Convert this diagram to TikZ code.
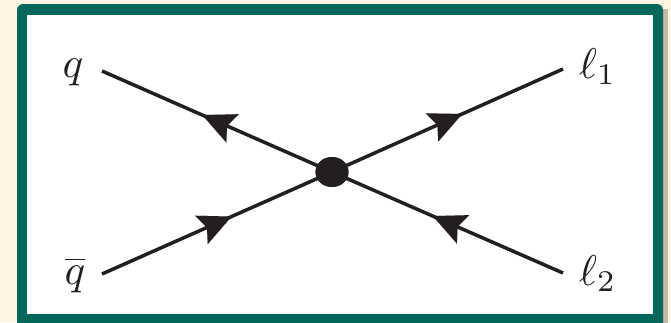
\documentclass[tikz,border=0pt]{standalone}
\usepackage{graphicx}
\usetikzlibrary{arrows.meta,decorations.markings,shapes.geometric}
\definecolor{cream}{RGB}{253,244,226}
\definecolor{frameteal}{RGB}{0,104,90}
\definecolor{shadowgray}{RGB}{196,186,168}
\definecolor{ink}{RGB}{35,31,32}
\newcommand{\bigsym}[1]{\scalebox{4.3}{$#1$}}
\begin{document}
\begin{tikzpicture}[x=1pt,y=-1pt,
  lbl/.style={inner sep=0pt, text=ink},
  prop/.style={draw=ink, line width=3.5pt, postaction={decorate},
    decoration={markings, mark=at position 0.5 with {\arrow[ink,xshift=16pt]{Stealth[length=33pt,width=31pt,inset=6pt,line width=0.01pt]}}}},
  vertexdot/.style={ellipse, fill=ink, minimum width=33pt, minimum height=30pt, inner sep=0pt}
]
\useasboundingbox (0,0) rectangle (671,322);
\fill[cream] (0,0) rectangle (671,322);
% shadow
\fill[shadowgray] (663,9) rectangle (668,330);
% frame
\fill[frameteal, rounded corners=6pt] (17,4) rectangle (663,340);
\fill[white] (27,15) rectangle (653,314);
% vertex and ends
\node[vertexdot] (v) at (332,172) {};
\coordinate (eq) at (102,71);
\coordinate (eqb) at (102,274);
\coordinate (el1) at (563,69);
\coordinate (el2) at (563,273);
\draw[prop] (v.center) -- (eq);
\draw[prop] (v.center) -- (el1);
\draw[prop] (eqb) -- (v.center);
\draw[prop] (el2) -- (v.center);
\node[vertexdot] at (v) {};
% labels
\node[lbl, anchor=base] (lq) at (73,77) {\bigsym{q}};
\node[lbl, anchor=base] (lqb) at (75,284) {\bigsym{\overline{q}}};
\node[lbl, anchor=base west] (ll1) at (579,78) {\bigsym{\ell_1}};
\node[lbl, anchor=base west] (ll2) at (579,285) {\bigsym{\ell_2}};
\end{tikzpicture}
\end{document}
